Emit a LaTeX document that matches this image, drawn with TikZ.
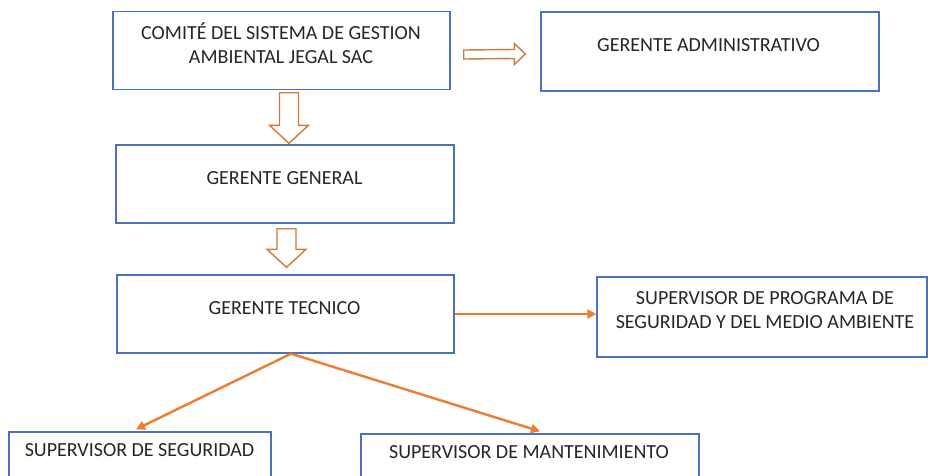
\documentclass[tikz,border=0pt]{standalone}
\usepackage{fontspec}
\setmainfont{Carlito}
\usetikzlibrary{calc,arrows.meta}
\definecolor{boxblue}{HTML}{4A72C0}
\definecolor{arrorange}{HTML}{ED7D31}
\definecolor{blockorange}{HTML}{D27A3C}
\definecolor{txtgray}{HTML}{262626}
\tikzset{
  box/.style={draw=boxblue, line width=1.4pt, inner sep=0pt, rectangle},
  txt/.style={text=txtgray, font=\fontsize{20}{24}\selectfont, align=center, inner sep=0pt},
  blockarrow/.style={draw=blockorange, line width=1.4pt, fill=white, line join=miter},
  linkarrow/.style={draw=arrorange, line width=2.4pt, -{Triangle[length=9pt,width=9pt]}}
}
\newcommand\blockdown[2]{%
  \draw[blockarrow] ($(#1)+(-9.5,0)$) -- ($(#1)+(9.5,0)$) -- ($(#2)+(9.5,-18)$)
    -- ($(#2)+(19.5,-18)$) -- (#2) -- ($(#2)+(-19.5,-18)$) -- ($(#2)+(-9.5,-18)$) -- cycle;}
\newcommand\blockright[2]{%
  \draw[blockarrow] ($(#1)+(0,-4.5)$) -- ($(#2)+(-11,-4.5)$) -- ($(#2)+(-11,-10.5)$)
    -- (#2) -- ($(#2)+(-11,10.5)$) -- ($(#2)+(-11,4.5)$) -- ($(#1)+(0,4.5)$) -- cycle;}
\begin{document}
\begin{tikzpicture}[x=1pt,y=-1pt]
\clip (0,0) rectangle (928,475);
\fill[white] (0,0) rectangle (928,475);
% boxes
\node[box, minimum width=337pt, minimum height=78pt] (comite) at (281.5,50.5) {};
\node[box, minimum width=338pt, minimum height=79pt] (admin) at (710,51.5) {};
\node[box, minimum width=338pt, minimum height=78pt] (gg) at (285,184) {};
\node[box, minimum width=337pt, minimum height=78pt] (gt) at (285.5,314) {};
\node[box, minimum width=330pt, minimum height=80pt] (sp) at (762,317) {};
\node[box, minimum width=262pt, minimum height=60pt] (ss) at (140,462) {};
\node[box, minimum width=338pt, minimum height=60pt] (sm) at (530,464) {};
% texts
\node[txt] (comite-t) at (281,43) {COMITÉ DEL SISTEMA DE GESTION\\AMBIENTAL JEGAL SAC};
\node[txt] (admin-t) at (708.5,45) {GERENTE ADMINISTRATIVO};
\node[txt] (gg-t) at (284.5,178) {GERENTE GENERAL};
\node[txt] (gt-t) at (284.5,308) {GERENTE TECNICO};
\node[txt] (sp-t) at (765,310) {SUPERVISOR DE PROGRAMA DE\\SEGURIDAD Y DEL MEDIO AMBIENTE};
\node[txt] (ss-t) at (139.5,450) {SUPERVISOR DE SEGURIDAD};
\node[txt] (sm-t) at (529,452) {SUPERVISOR DE MANTENIMIENTO};
% block arrows
\coordinate (a1s) at ($(comite.south)+(7.5,2.5)$);
\coordinate (a1e) at ($(gg.north)+(4,-1)$);
\blockdown{a1s}{a1e}
\coordinate (a2s) at ($(gg.south)+(1.5,5)$);
\coordinate (a2e) at ($(gt.north)+(1,-7)$);
\blockdown{a2s}{a2e}
\coordinate (a3s) at ($(comite.east)+(13,4)$);
\coordinate (a3e) at ($(admin.west)+(-15,2.5)$);
\blockright{a3s}{a3e}
% line arrows
\coordinate (gtb) at ($(gt.south)+(5.5,0)$);
\draw[linkarrow] (gt.east) -- (gt.east -| sp.west);
\draw[linkarrow] (gtb) -- ($(ss.north)+(-4,-2)$);
\draw[linkarrow] (gtb) -- ($(sm.north)+(10,-2)$);
\end{tikzpicture}
\end{document}
